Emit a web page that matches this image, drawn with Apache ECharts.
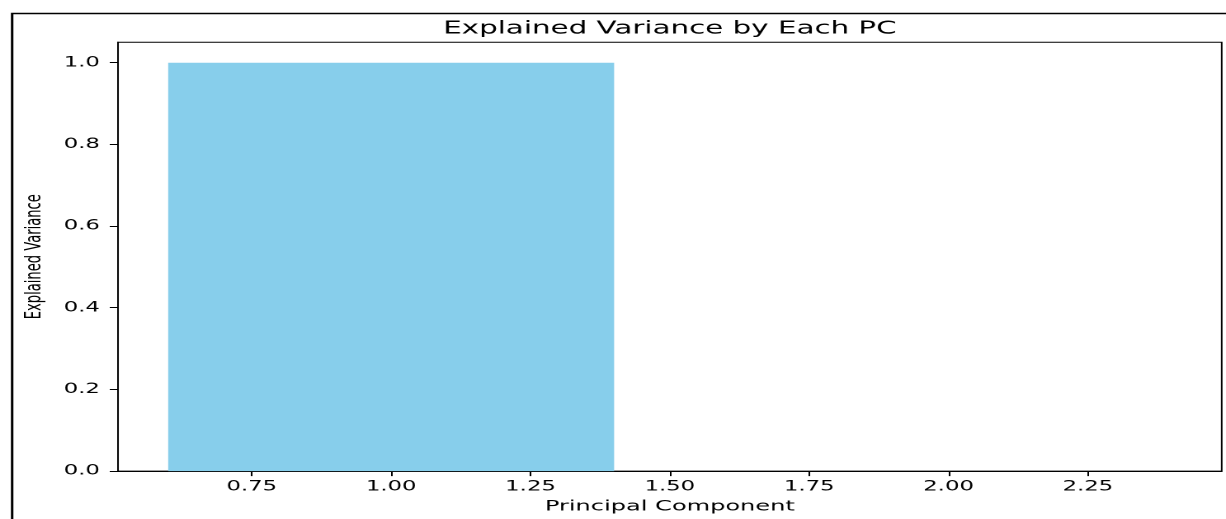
<!DOCTYPE html>
<html>
<head>
<meta charset="utf-8">
<script src="https://cdn.jsdelivr.net/npm/echarts@6/dist/echarts.min.js"></script>
<style>
	html, body { margin: 0; padding: 0; background: #fff; overflow: hidden; }
	#main { height: 519px; transform-origin: 0 0; }
</style>
</head>
<body>
<div id="main"></div>
<script>
// data
var components = [1, 2];
var variance = [1.0, 0.0];
var xTicks = [0.75, 1.00, 1.25, 1.50, 1.75, 2.00, 2.25];
var yTicks = [0.0, 0.2, 0.4, 0.6, 0.8, 1.0];

// the reference is stretched horizontally, so draw narrow and scale the box
var stretch = 1.65;
var box = document.getElementById('main');
box.style.width = (1226 / stretch) + 'px';
box.style.transform = 'scaleX(' + stretch + ')';

var font = 'DejaVu Sans';
var ink = '#000';

var barData = [];
for (var i = 0; i < components.length; i++) {
	barData.push([components[i], variance[i]]);
}

var chart = echarts.init(box, null, { renderer: 'canvas', devicePixelRatio: 2 });

var option = {
	backgroundColor: '#fff',
	animation: false,
	title: {
		text: 'Explained Variance by Each PC',
		left: 406,
		top: 20,
		textAlign: 'center',
		padding: 0,
		textStyle: { fontFamily: font, fontSize: 17.8, fontWeight: 'normal', color: ink, lineHeight: 18 }
	},
	grid: {
		left: 118 / stretch,
		top: 42.3,
		width: (1221.7 - 118) / stretch,
		height: 431,
		show: true,
		borderColor: '#000',
		borderWidth: 1,
		backgroundColor: 'transparent'
	},
	xAxis: {
		type: 'value',
		min: 0.51,
		max: 2.49,
		name: 'Principal Component',
		nameLocation: 'middle',
		nameGap: 27.4,
		nameTextStyle: { fontFamily: font, fontSize: 14.6, color: ink, lineHeight: 15 },
		axisLine: { show: true, onZero: false, lineStyle: { color: '#000', width: 1 } },
		axisTick: { show: true, length: 5, customValues: xTicks, lineStyle: { color: '#000', width: 1 } },
		axisLabel: {
			customValues: xTicks,
			margin: 9,
			fontFamily: font,
			fontSize: 13.8,
			lineHeight: 14,
			color: ink,
			formatter: function(v) { return v.toFixed(2); }
		},
		splitLine: { show: false }
	},
	yAxis: {
		type: 'value',
		min: 0,
		max: 1.05,
		name: 'Explained Variance',
		nameLocation: 'middle',
		nameGap: 40,
		nameTextStyle: { fontFamily: font, fontSize: 13.1, color: ink },
		axisLine: { show: true, onZero: false, lineStyle: { color: '#000', width: 1 } },
		axisTick: { show: true, length: 5, customValues: yTicks, lineStyle: { color: '#000', width: 1 } },
		axisLabel: {
			customValues: yTicks,
			margin: 11,
			fontFamily: font,
			fontSize: 13.8,
			color: ink,
			formatter: function(v) { return v.toFixed(1); }
		},
		splitLine: { show: false }
	},
	series: [{
		name: 'Explained Variance',
		type: 'custom',
		data: barData,
		renderItem: function(params, api) {
			var x = api.value(0);
			var y = api.value(1);
			var p0 = api.coord([x - 0.4, y]);
			var p1 = api.coord([x + 0.4, 0]);
			return {
				type: 'rect',
				shape: { x: p0[0], y: p0[1], width: p1[0] - p0[0], height: p1[1] - p0[1] },
				style: { fill: '#87CEEB' }
			};
		},
		z: 1
	}],
	graphic: [{
		type: 'rect',
		left: 8 / stretch,
		top: 11,
		shape: { width: 2000, height: 1000 },
		style: { fill: 'none', stroke: '#000', lineWidth: 1.5 },
		silent: true
	}]
};

chart.setOption(option);
</script>
</body>
</html>
